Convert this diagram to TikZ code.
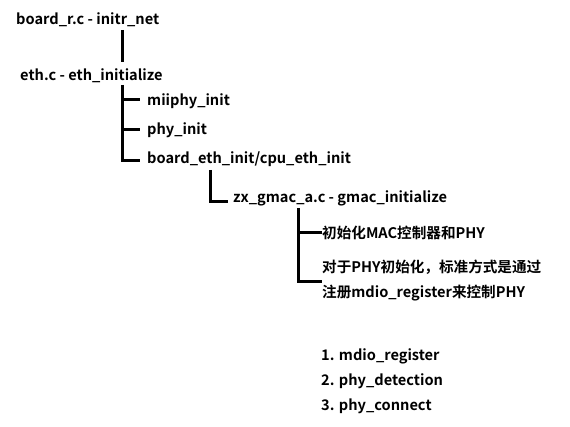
\documentclass[tikz,border=0pt]{standalone}
\usepackage{fontspec}
\setmainfont{Noto Sans CJK SC}[BoldFont={Noto Sans CJK SC Bold}]
\begin{document}
\begin{tikzpicture}[x=1pt,y=-1pt,
  lbl/.style={anchor=west,inner sep=0pt,font=\fontsize{14.6}{15}\selectfont\bfseries},
  conn/.style={line width=3pt}]
\useasboundingbox (0,0) rectangle (570,427);
\node[lbl] (a) at (16,20) {board\_r.c - initr\_net};
\node[lbl] (b) at (20,76) {eth.c - eth\_initialize};
\node[lbl] (b1) at (147,101) {miiphy\_init};
\node[lbl] (b2) at (147,130) {phy\_init};
\node[lbl] (b3) at (147,159) {board\_eth\_init/cpu\_eth\_init};
\node[lbl] (c) at (233,198) {zx\_gmac\_a.c - gmac\_initialize};
\node[lbl] (c1) at (322,233) {初始化MAC控制器和PHY};
\node[lbl] (c2) at (322,267) {对于PHY初始化，标准方式是通过};
\node[lbl] (c3) at (322,293) {注册mdio\_register来控制PHY};
\node[lbl] (l1) at (321,356) {1. mdio\_register};
\node[lbl] (l2) at (321,381) {2. phy\_detection};
\node[lbl] (l3) at (321,406) {3. phy\_connect};
\coordinate (v1) at (122,30);
\coordinate (v1e) at (122,62);
\draw[conn] (v1) -- (v1e);
\coordinate (v2) at (122,85);
\draw[conn] (v2) |- (140,161);
\draw[conn] (122,100) -- (140,100);
\draw[conn] (122,130) -- (140,130);
\draw[conn] (210,170) |- (228,202);
\draw[conn] (298,208) |- (322,282);
\draw[conn] (298,233) -- (322,233);
\end{tikzpicture}
\end{document}
